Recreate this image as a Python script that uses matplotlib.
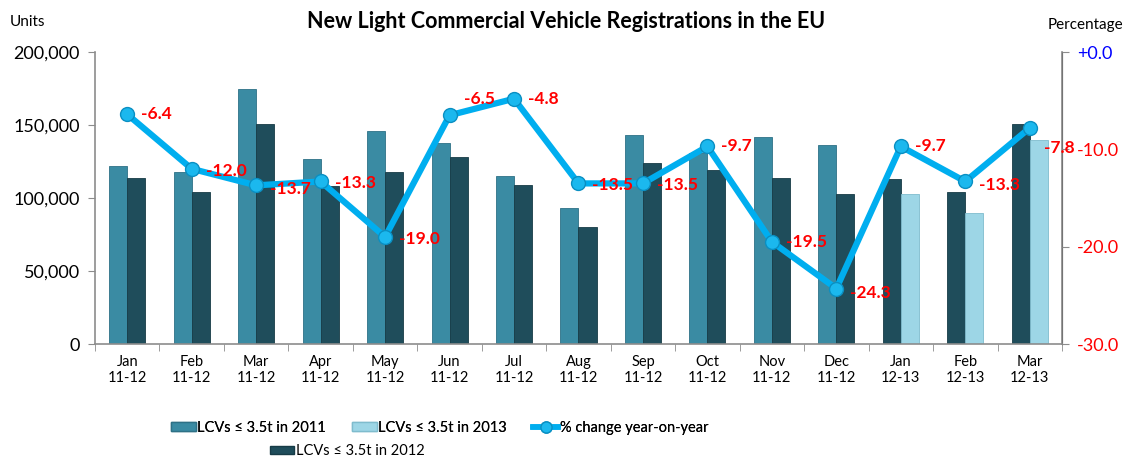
"""New light commercial vehicle registrations in the EU, bars plus yoy line."""

import matplotlib

matplotlib.use("Agg")
import matplotlib.pyplot as plt
from matplotlib.lines import Line2D
from matplotlib.patches import Patch
from matplotlib.ticker import FuncFormatter
import numpy as np

MONTHS = ["Jan", "Feb", "Mar", "Apr", "May", "Jun", "Jul", "Aug",
          "Sep", "Oct", "Nov", "Dec", "Jan", "Feb", "Mar"]
PERIODS = ["11-12"] * 12 + ["12-13"] * 3

UNITS_2011 = [122000, 118000, 175000, 127000, 146000, 138000, 115000, 93000,
              143000, 131000, 142000, 136000]
UNITS_2012 = [114000, 104000, 151000, 108000, 118000, 128000, 109000, 80000,
              124000, 119000, 114000, 103000, 113000, 104000, 151000]
UNITS_2013 = [103000, 90000, 140000]
PCT_CHANGE = [-6.4, -12.0, -13.7, -13.3, -19.0, -6.5, -4.8, -13.5, -13.5,
              -9.7, -19.5, -24.3, -9.7, -13.3, -7.8]

C2011 = "#3A8BA3"
C2012 = "#1F4D5B"
C2013 = "#9DD6E6"
CLINE = "#00AEEF"

plt.rcParams["font.family"] = ["Lato", "DejaVu Sans"]

fig = plt.figure(figsize=(11.27, 4.59), dpi=100)
ax = fig.add_axes([0.0843, 0.2505, 0.8580, 0.6362])
ax2 = ax.twinx()

x = np.arange(len(MONTHS))
w = 0.28
n_old = len(UNITS_2011)

# first twelve months: 2011 left, 2012 right; last three: 2012 left, 2013 right
ax.bar(x[:n_old] - w / 2, UNITS_2011, w, color=C2011, edgecolor="#2E7186",
       linewidth=0.6, zorder=2)
pos_2012 = np.where(x < n_old, x + w / 2, x - w / 2)
ax.bar(pos_2012, UNITS_2012, w, color=C2012, edgecolor="#173B46",
       linewidth=0.6, zorder=2)
ax.bar(x[n_old:] + w / 2, UNITS_2013, w, color=C2013, edgecolor="#7FBCCD",
       linewidth=0.6, zorder=2)

ax.set_xlim(-0.5, len(MONTHS) - 0.5)
ax.set_ylim(0, 200000)
ax.set_yticks(np.arange(0, 200001, 50000))
ax.yaxis.set_major_formatter(FuncFormatter(lambda v, _: f"{v:,.0f}"))
ax.set_xticks(x)
ax.set_xticklabels([f"{m}\n{p}" for m, p in zip(MONTHS, PERIODS)], fontsize=10.5)
ax.set_xticks(np.arange(-0.5, len(MONTHS), 1.0), minor=True)
ax.tick_params(axis="x", which="major", length=0, pad=8)
ax.tick_params(axis="x", which="minor", length=5, color="#8C8C8C")
ax.tick_params(axis="y", labelsize=13, length=5, color="#8C8C8C", pad=6)

ax.spines["top"].set_visible(False)
ax2.spines["top"].set_visible(False)
for spine in ("left", "bottom"):
    ax.spines[spine].set_color("#8C8C8C")
    ax.spines[spine].set_linewidth(1.2)
ax2.spines["right"].set_color("#8C8C8C")
ax2.spines["right"].set_linewidth(1.2)
ax2.spines["left"].set_visible(False)
ax2.spines["bottom"].set_visible(False)

ax2.plot(x, PCT_CHANGE, color=CLINE, linewidth=4.5, marker="o", markersize=10,
         markerfacecolor="#1BB8EE", markeredgecolor="#0A8FC2",
         markeredgewidth=1.0, zorder=5)
ax2.set_ylim(-30, 0)
ax2.set_yticks([0, -10, -20, -30])
ax2.set_yticklabels(["+0.0", "-10.0", "-20.0", "-30.0"], fontsize=13)
ax2.tick_params(axis="y", length=5, color="#8C8C8C", pad=6)
for lab in ax2.get_yticklabels():
    lab.set_color("#0000FF" if lab.get_text() == "+0.0" else "#FF0000")

label_dy = [0, -2, -4, -2, -2, 16, 0, -2, -2, 0, 0, -4, 0, -4, -20]
for xi, val, dy in zip(x, PCT_CHANGE, label_dy):
    ax2.annotate(f"{val:.1f}", (xi, val), xytext=(14, dy),
                 textcoords="offset pixels", ha="left", va="center",
                 color="#FF0000", fontsize=12.5, fontweight="bold", zorder=6)

fig.text(0.502, 0.953, "New Light Commercial Vehicle Registrations in the EU",
         ha="center", va="center", fontsize=15.5, fontweight="bold")
fig.text(0.009, 0.953, "Units", ha="left", va="center", fontsize=11)
fig.text(0.997, 0.945, "Percentage", ha="right", va="center", fontsize=11)

row1 = [
    Patch(facecolor=C2011, edgecolor="#2E7186", label="LCVs ≤ 3.5t in 2011"),
    Patch(facecolor=C2013, edgecolor="#7FBCCD", label="LCVs ≤ 3.5t in 2013"),
    Line2D([], [], color=CLINE, linewidth=4, marker="o", markersize=8,
           markerfacecolor="#1BB8EE", markeredgecolor="#0A8FC2",
           label="% change year-on-year"),
]
leg = fig.legend(handles=row1, loc="center", bbox_to_anchor=(0.39, 0.068),
                 ncols=3, frameon=False, fontsize=10.5, handlelength=1.7,
                 handleheight=0.5, handletextpad=0.1, columnspacing=1.8)
fig.add_artist(leg)
fig.legend(handles=[Patch(facecolor=C2012, edgecolor="#173B46",
                          label="LCVs ≤ 3.5t in 2012")],
           loc="center", bbox_to_anchor=(0.308, 0.017), frameon=False,
           fontsize=10.5, handlelength=1.7, handleheight=0.5,
           handletextpad=0.1)

fig.savefig("out.png", dpi=100)
